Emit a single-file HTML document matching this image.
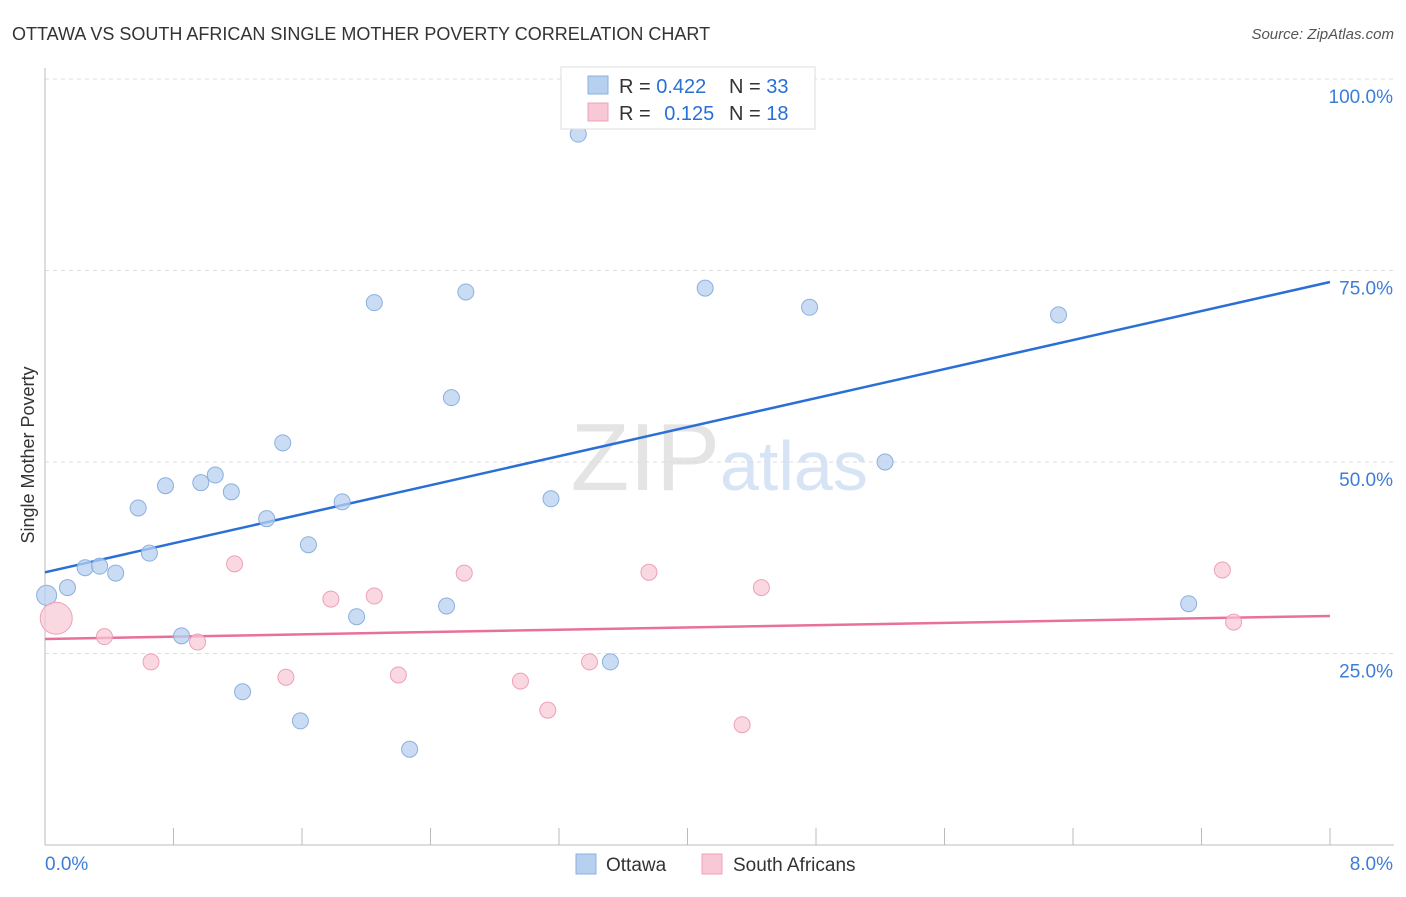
<!DOCTYPE html>
<html><head><meta charset="utf-8"><style>
body{margin:0;background:#fff;font-family:"Liberation Sans",sans-serif;}
svg text{font-family:"Liberation Sans",sans-serif;}
</style></head><body>
<svg id="chart" width="1406" height="892">
<text x="12" y="40" font-size="18" fill="#333">OTTAWA VS SOUTH AFRICAN SINGLE MOTHER POVERTY CORRELATION CHART</text>
<text x="1394" y="39" font-size="15" fill="#555" text-anchor="end" font-style="italic">Source: ZipAtlas.com</text>
<text x="720" y="490" font-size="96" fill="#e4e4e4" text-anchor="end" font-family="Liberation Serif">ZIP</text>
<text x="720" y="490" font-size="70" fill="#d6e4f6">atlas</text>
<text transform="translate(34,455) rotate(-90)" font-size="18" fill="#333" text-anchor="middle">Single Mother Poverty</text>
<g id="grid"></g><g id="axes"></g><g id="lines"></g><g id="pts"></g>
<g>
<rect x="561" y="67" width="254" height="62" fill="#fff" stroke="#ddd"/>
<rect x="588" y="76" width="20" height="18" fill="#b8d0f0" stroke="#8ab0e0"/>
<rect x="588" y="103" width="20" height="18" fill="#f8c8d6" stroke="#eea0b8"/>
<text x="619" y="93" font-size="20" fill="#333">R = <tspan fill="#2a6fd6">0.422</tspan><tspan x="729">N = </tspan><tspan fill="#2a6fd6">33</tspan></text>
<text x="619" y="120" font-size="20" fill="#333">R = <tspan fill="#2a6fd6" dx="8">0.125</tspan><tspan x="729">N = </tspan><tspan fill="#2a6fd6">18</tspan></text>
</g>
<g>
<rect x="576" y="854" width="20" height="20" fill="#b8d0f0" stroke="#8ab0e0"/>
<text x="606" y="871" font-size="19" fill="#333">Ottawa</text>
<rect x="702" y="854" width="20" height="20" fill="#f8c8d6" stroke="#eea0b8"/>
<text x="733" y="871" font-size="19" fill="#333">South Africans</text>
</g>
</svg>
<script>
const blueX=[0.01,0.14,0.25,0.34,0.44,0.58,0.65,0.75,0.85,0.97,1.06,1.16,1.23,1.38,1.48,1.59,1.64,1.85,1.94,2.05,2.27,2.50,2.53,2.62,3.15,3.32,3.52,4.11,4.63,4.76,5.23,6.31,7.12];
const blueY=[32.6,33.6,36.2,36.4,35.5,44.0,38.1,46.9,27.3,47.3,48.3,46.1,20.0,42.6,52.5,16.2,39.2,44.8,29.8,70.8,12.5,31.2,58.4,72.2,45.2,92.8,23.9,72.7,100.0,70.2,50.0,69.2,31.5];
const pinkX=[0.07,0.37,0.66,0.95,1.18,1.50,1.78,2.05,2.20,2.61,2.96,3.13,3.39,3.76,4.34,4.46,7.33,7.40];
const pinkY=[29.6,27.2,23.9,26.5,36.7,21.9,32.1,32.5,22.2,35.5,21.4,17.6,23.9,35.6,15.7,33.6,35.9,29.1];
const blueTrend=[35.6,73.5];
const pinkTrend=[26.9,29.9];
const yTicks=[25,50,75,100];
const yTickLabels=["25.0%","50.0%","75.0%","100.0%"];
const xTicks=[0,0.8,1.6,2.4,3.2,4,4.8,5.6,6.4,7.2,8];
const xEndLabels=["0.0%","8.0%"];
const NS="http://www.w3.org/2000/svg";
const X=v=>45+v/8*1285, Y=v=>845-v*7.66;
function mk(p,t,a){const e=document.createElementNS(NS,t);for(const k in a)e.setAttribute(k,a[k]);document.getElementById(p).appendChild(e);return e;}
yTicks.forEach((t,i)=>{
 const l=mk('grid','line',{x1:45,x2:1394,y1:Y(t),y2:Y(t),stroke:'#ddd','stroke-dasharray':'4,4'});
 
 
 const tx=mk('grid','text',{x:1393,y:Y(t)+24,'font-size':19,fill:'#3d7dd8','text-anchor':'end'});
 tx.textContent=yTickLabels[i];
 
 
});
const ax=mk('axes','line',{x1:45,x2:45,y1:68,y2:845,stroke:'#bbb'});


const bx=mk('axes','line',{x1:45,x2:1394,y1:845,y2:845,stroke:'#bbb'});


xTicks.forEach(t=>{
 const l=mk('axes','line',{x1:X(t),x2:X(t),y1:828,y2:845,stroke:'#bbb'});
 
 
});
const l0=mk('axes','text',{x:45,y:870,'font-size':19,fill:'#3d7dd8'});l0.textContent=xEndLabels[0];


const l1=mk('axes','text',{x:1393,y:870,'font-size':19,fill:'#3d7dd8','text-anchor':'end'});l1.textContent=xEndLabels[1];


blueX.forEach((x,i)=>{
 const c=mk('pts','circle',{cx:X(x),cy:Y(blueY[i]),r:i===0?10:8,fill:'#b8d0f0','fill-opacity':0.75,stroke:'#8ab0e0'});
 
 
});
pinkX.forEach((x,i)=>{
 const c=mk('pts','circle',{cx:X(x),cy:Y(pinkY[i]),r:i===0?16:8,fill:'#f8c8d6','fill-opacity':0.7,stroke:'#eea0b8'});
 
 
});
const bl=mk('lines','line',{x1:X(0),x2:X(8),y1:Y(blueTrend[0]),y2:Y(blueTrend[1]),stroke:'#2a6fd6','stroke-width':2.5});


const pl=mk('lines','line',{x1:X(0),x2:X(8),y1:Y(pinkTrend[0]),y2:Y(pinkTrend[1]),stroke:'#e8709a','stroke-width':2.5});


</script>
</body></html>
